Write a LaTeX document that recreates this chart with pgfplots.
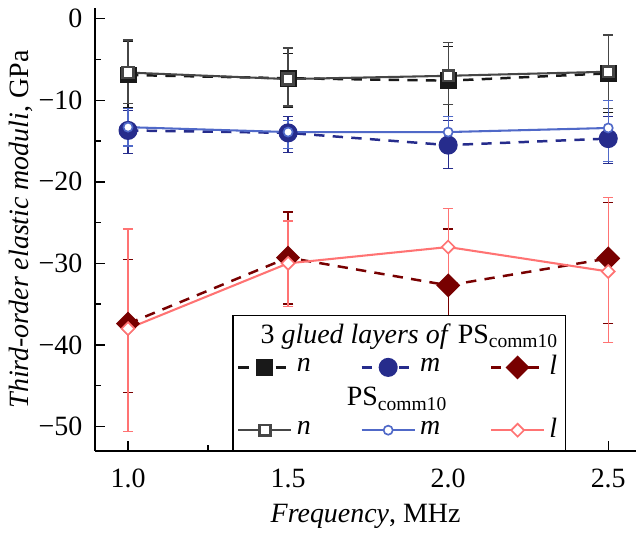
\documentclass[border=0pt]{standalone}
\usepackage{fontspec}
\setmainfont{Liberation Serif}
\usepackage{pgfplots}
\pgfplotsset{compat=1.18}
\definecolor{gblack}{RGB}{25,25,25}
\definecolor{pgray}{RGB}{70,70,70}
\definecolor{gnavy}{RGB}{38,44,140}
\definecolor{pblue}{RGB}{80,105,200}
\definecolor{gmaroon}{RGB}{120,0,0}
\definecolor{psalmon}{RGB}{255,115,115}
\pgfplotsset{
  ebars/.style={error bars/y dir=both, error bars/y explicit,
    error bars/error bar style={solid, line width=0.6pt},
    error bars/error mark options={solid, line width=0.6pt, mark size=2.5pt, rotate=90}},
  glued/.style={dash pattern=on 5pt off 4pt, line width=1.2pt, ebars},
  plain/.style={solid, line width=1pt, ebars},
}
\begin{document}
\fontsize{13.5}{16}\selectfont%
\begin{tikzpicture}
\begin{axis}[
  scale only axis, width=261.5pt, height=214pt,
  xmin=0.897, xmax=2.587, ymin=-53, ymax=1.3,
  axis lines*=left, axis line style={line width=0.9pt},
  xtick={1,1.5,2,2.5}, xticklabels={1.0,1.5,2.0,2.5},
  ytick={-50,-40,-30,-20,-10,0}, yticklabels={−50,−40,−30,−20,−10,0},
  minor tick num=1,
  tick align=inside, major tick length=5pt, minor tick length=3pt,
  tick style={line width=0.7pt, black},
  xticklabel shift=4pt, yticklabel shift=1.5pt,
  xlabel={\textit{Frequency}, MHz}, xlabel shift=-1.5pt,
  ylabel={\textit{Third-order elastic moduli}, GPa},
  ylabel shift=-6.5pt,
  legend columns=3,
  legend image code/.code={\draw[mark repeat=2,mark phase=2] plot coordinates {(0cm,0cm) (0.45cm,0cm) (0.9cm,0cm)};},
  legend style={at={(rel axis cs:0.254,0)}, anchor=south west, draw=black,
    line width=0.6pt, fill=white, inner sep=2pt, row sep=0pt,
    /tikz/every even column/.append style={column sep=22pt}},
]
\addlegendimage{empty legend}\addlegendentry{\mbox{}}
\addlegendimage{empty legend}\addlegendentry{\makebox[0pt]{3 \textit{glued layers of} PS\textsubscript{comm10}\hspace*{20pt}}}
\addlegendimage{empty legend}\addlegendentry{\mbox{}}
% 3 glued layers
\addplot[color=gblack, glued, mark=square*, mark options={solid, mark size=3.5pt}]
  coordinates {(1.0,-6.9) += (0,4.1) -= (0,4.0) (1.5,-7.3) += (0,3.0) -= (0,3.6)
               (2.0,-7.6) += (0,4.2) -= (0,4.4) (2.5,-6.7) += (0,4.7) -= (0,4.8)};
\addlegendentry{\textit{n}}
\addplot[color=gnavy, glued, mark=*, mark options={solid, mark size=4pt}]
  coordinates {(1.0,-13.7) += (0,2.4) -= (0,2.8) (1.5,-14.0) += (0,2.0) -= (0,2.4)
               (2.0,-15.5) += (0,3.0) -= (0,2.9) (2.5,-14.7) += (0,2.7) -= (0,3.1)};
\addlegendentry{\textit{m}}
\addplot[color=gmaroon, glued, mark=square*, mark options={solid, rotate=45, mark size=3.5pt}]
  coordinates {(1.0,-37.4) += (0,7.9) -= (0,8.4) (1.5,-29.3) += (0,5.6) -= (0,5.7)
               (2.0,-32.7) += (0,6.9) -= (0,7.3) (2.5,-29.4) += (0,6.9) -= (0,8.0)};
\addlegendentry{\textit{l}}
\addlegendimage{empty legend}\addlegendentry{\mbox{}}
\addlegendimage{empty legend}\addlegendentry{\makebox[0pt]{PS\textsubscript{comm10}\hspace*{32pt}}}
\addlegendimage{empty legend}\addlegendentry{\mbox{}}
% PS_comm10
\addplot[color=pgray, plain, mark=square*, mark options={solid, fill=white, line width=1.2pt, mark size=2.6pt}]
  coordinates {(1.0,-6.6) += (0,4.0) -= (0,3.8) (1.5,-7.4) += (0,3.8) -= (0,3.3)
               (2.0,-7.0) += (0,4.1) -= (0,3.5) (2.5,-6.5) += (0,4.5) -= (0,4.5)};
\addlegendentry{\textit{n}}
\addplot[color=pblue, plain, mark=*, mark options={solid, fill=white, line width=0.8pt, mark size=2.2pt}]
  coordinates {(1.0,-13.3) += (0,2.3) -= (0,2.3) (1.5,-13.9) += (0,1.4) -= (0,2.0)
               (2.0,-13.9) += (0,1.9) -= (0,2.4) (2.5,-13.4) += (0,3.4) -= (0,4.1)};
\addlegendentry{\textit{m}}
\addplot[color=psalmon, plain, mark=square*, mark options={solid, fill=white, rotate=45, line width=0.8pt, mark size=2.2pt}]
  coordinates {(1.0,-38.0) += (0,12.2) -= (0,12.6) (1.5,-30.0) += (0,5.2) -= (0,5.3)
               (2.0,-28.0) += (0,4.7) -= (0,5.1) (2.5,-31.0) += (0,9.1) -= (0,8.7)};
\addlegendentry{\textit{l}}
% blank margin above and to the right of the axis, as in the reference
\path (rel axis cs:1,1) ++(9.5pt,6.5pt);
\end{axis}
\end{tikzpicture}
\end{document}
